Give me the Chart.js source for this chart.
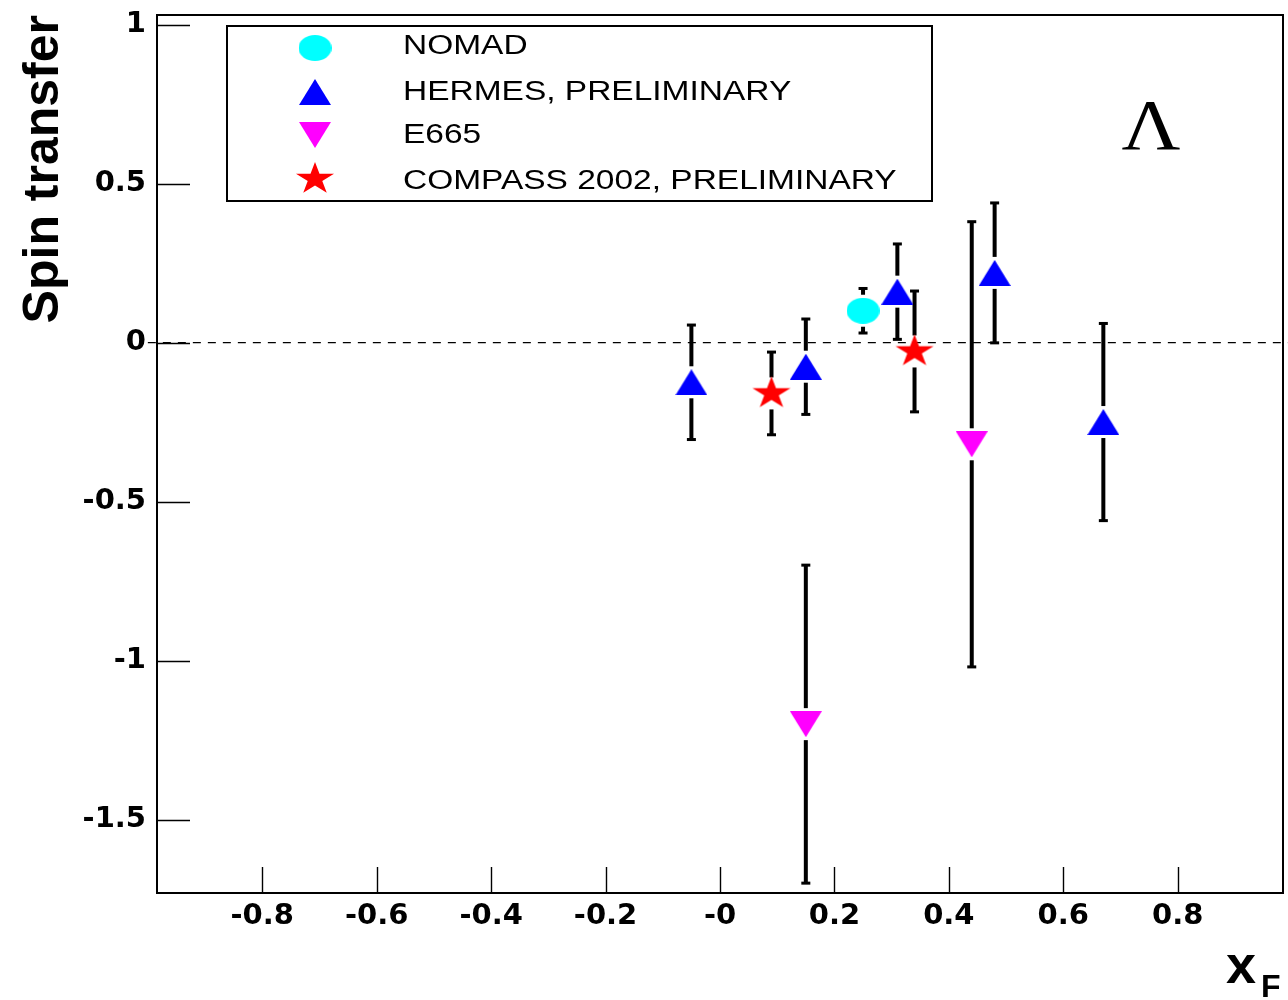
<!DOCTYPE html>
<html lang="en">
  <head>
    <meta charset="UTF-8" />
    <title>Lambda spin transfer vs xF</title>
    <script src="https://cdn.jsdelivr.net/npm/chart.js"></script>
    <style>
      body {
        margin: 0;
        background: #fff;
      }
      #wrap {
        width: 1288px;
        height: 1000px;
      }
    </style>
  </head>
  <body>
    <div id="wrap"><canvas id="spinChart" width="1288" height="1000"></canvas></div>

    <script>
      // Measured points: xF, spin transfer, symmetric error
      const nomadX = [0.25];
      const nomadY = [0.1];
      const nomadErr = [0.07];

      const hermesX = [-0.05, 0.15, 0.31, 0.48, 0.67];
      const hermesY = [-0.125, -0.076, 0.16, 0.219, -0.25];
      const hermesErr = [0.18, 0.15, 0.15, 0.22, 0.31];

      const e665X = [0.15, 0.44];
      const e665Y = [-1.2, -0.32];
      const e665Err = [0.5, 0.7];

      const compassX = [0.09, 0.34];
      const compassY = [-0.16, -0.028];
      const compassErr = [0.13, 0.19];

      const xTicks = [-0.8, -0.6, -0.4, -0.2, 0, 0.2, 0.4, 0.6, 0.8];
      const xTickLabels = ["-0.8", "-0.6", "-0.4", "-0.2", "-0", "0.2", "0.4", "0.6", "0.8"];
      const yTicks = [1, 0.5, 0, -0.5, -1, -1.5];
      const yTickLabels = ["1", "0.5", "0", "-0.5", "-1", "-1.5"];

      // reference line at zero transfer
      const zeroLineX = [-1, 1];

      const toPoints = (xs, ys) => xs.map((x, i) => ({ x: x, y: ys[i] }));

      // filled marker shapes, used both on the plot and in the legend box
      function makeMarker(w, h, color, shape) {
        const c = document.createElement("canvas");
        c.width = w;
        c.height = h;
        const g = c.getContext("2d");
        g.fillStyle = color;
        g.beginPath();
        shape(g, w, h);
        g.closePath();
        g.fill();
        return c;
      }

      const ellipseMarker = makeMarker(33, 26, "#00ffff", (g, w, h) =>
        g.ellipse(w / 2, h / 2, w / 2, h / 2, 0, 0, Math.PI * 2)
      );
      const triUpMarker = makeMarker(32, 26, "#0000ff", (g, w, h) => {
        g.moveTo(0, h);
        g.lineTo(w / 2, 0);
        g.lineTo(w, h);
      });
      const triDownMarker = makeMarker(32, 26, "#ff00ff", (g, w, h) => {
        g.moveTo(0, 0);
        g.lineTo(w, 0);
        g.lineTo(w / 2, h);
      });
      const starMarker = makeMarker(40, 34, "#ff0000", (g, w, h) => {
        const cx = w / 2, cy = h / 2, rx = 20, ry = 17;
        for (let k = 0; k < 10; k++) {
          const a = -Math.PI / 2 + (k * Math.PI) / 5;
          const r = k % 2 === 0 ? 1 : 0.382;
          const px = cx + r * rx * Math.cos(a);
          const py = cy + r * ry * Math.sin(a);
          if (k === 0) g.moveTo(px, py);
          else g.lineTo(px, py);
        }
      });

      // vertical error bars with a gap around the marker, ROOT style
      const errorBars = {
        id: "errorBars",
        beforeDatasetsDraw(chart) {
          const { ctx, scales } = chart;
          const xs = scales.x, ys = scales.y;
          const gap = 16;
          ctx.save();
          ctx.fillStyle = "#000";
          chart.data.datasets.forEach((ds) => {
            if (!ds.errors) return;
            ds.data.forEach((p, i) => {
              const px = xs.getPixelForValue(p.x);
              const py = ys.getPixelForValue(p.y);
              const top = ys.getPixelForValue(p.y + ds.errors[i]);
              const bot = ys.getPixelForValue(p.y - ds.errors[i]);
              if (py - gap > top) ctx.fillRect(px - 2, top, 4, py - gap - top);
              if (bot > py + gap) ctx.fillRect(px - 2, py + gap, 4, bot - py - gap);
              ctx.fillRect(px - 4.5, top - 1.5, 9, 3);
              ctx.fillRect(px - 4.5, bot - 1.5, 9, 3);
            });
          });
          ctx.restore();
        },
      };

      // frame, inward tick marks, legend box and the free-standing labels
      const decorations = {
        id: "decorations",
        afterDraw(chart) {
          const { ctx, chartArea: a, scales } = chart;
          ctx.save();
          ctx.strokeStyle = "#000";
          ctx.fillStyle = "#000";

          ctx.lineWidth = 1.4;
          ctx.beginPath();
          yTicks.forEach((v) => {
            const py = Math.round(scales.y.getPixelForValue(v)) + 0.5;
            ctx.moveTo(a.left, py);
            ctx.lineTo(a.left + 33, py);
          });
          xTicks.forEach((v) => {
            const px = Math.round(scales.x.getPixelForValue(v)) + 0.5;
            ctx.moveTo(px, a.bottom);
            ctx.lineTo(px, a.bottom - 26);
          });
          ctx.stroke();

          ctx.lineWidth = 2;
          ctx.strokeRect(a.left, a.top, a.right - a.left, a.bottom - a.top);

          // legend
          ctx.strokeRect(227, 26, 705, 175);
          const rows = [
            { marker: ellipseMarker, cy: 48, base: 54 },
            { marker: triUpMarker, cy: 92, base: 100 },
            { marker: triDownMarker, cy: 135, base: 143 },
            { marker: starMarker, cy: 179, base: 189 },
          ];
          ctx.font = "27px 'Liberation Sans', Arial, sans-serif";
          ctx.textBaseline = "alphabetic";
          ctx.textAlign = "left";
          rows.forEach((r, i) => {
            const m = r.marker;
            ctx.drawImage(m, 315 - m.width / 2, r.cy - m.height / 2);
            ctx.save();
            ctx.translate(403, r.base);
            ctx.scale(1.24, 1);
            ctx.fillText(chart.data.datasets[i].label, 0, 0);
            ctx.restore();
          });

          // particle symbol
          ctx.save();
          ctx.font = "72px 'Liberation Serif', 'Times New Roman', serif";
          ctx.textAlign = "center";
          ctx.translate(1151, 149);
          ctx.scale(1.13, 1);
          ctx.fillText("\u039B", 0, 0);
          ctx.restore();

          // x axis title: x with subscript F
          ctx.font = "bold 54px 'Liberation Sans', Arial, sans-serif";
          ctx.fillText("x", 1226, 983);
          ctx.font = "bold 32px 'Liberation Sans', Arial, sans-serif";
          ctx.fillText("F", 1261, 997);

          ctx.restore();
        },
      };

      const tickFont = { family: "'DejaVu Sans', sans-serif", weight: "bold", size: 29 };

      new Chart(document.getElementById("spinChart"), {
        type: "scatter",
        data: {
          datasets: [
            {
              label: "NOMAD",
              data: toPoints(nomadX, nomadY),
              errors: nomadErr,
              pointStyle: ellipseMarker,
              order: 1,
            },
            {
              label: "HERMES, PRELIMINARY",
              data: toPoints(hermesX, hermesY),
              errors: hermesErr,
              pointStyle: triUpMarker,
              order: 1,
            },
            {
              label: "E665",
              data: toPoints(e665X, e665Y),
              errors: e665Err,
              pointStyle: triDownMarker,
              order: 1,
            },
            {
              label: "COMPASS 2002, PRELIMINARY",
              data: toPoints(compassX, compassY),
              errors: compassErr,
              pointStyle: starMarker,
              order: 0,
            },
            {
              type: "line",
              label: "zero",
              data: zeroLineX.map((x) => ({ x: x, y: 0 })),
              borderColor: "#000",
              borderWidth: 1.3,
              borderDash: [8, 7],
              pointRadius: 0,
              clip: false,
              order: 10,
            },
          ],
        },
        options: {
          responsive: false,
          animation: false,
          events: [],
          layout: { padding: { top: 15, right: 3, left: 0, bottom: 0 } },
          plugins: { legend: { display: false }, tooltip: { enabled: false } },
          scales: {
            x: {
              type: "linear",
              min: -0.984,
              max: 0.984,
              grid: { display: false, drawTicks: false },
              border: { display: false },
              afterFit: (s) => {
                s.height = 107;
                s.paddingLeft = 0;
                s.paddingRight = 0;
              },
              afterBuildTicks: (s) => { s.ticks = xTicks.map((v) => ({ value: v })); },
              ticks: {
                autoSkip: false,
                maxRotation: 0,
                padding: 6,
                color: "#000",
                font: tickFont,
                callback: (v, i) => xTickLabels[i],
              },
            },
            y: {
              type: "linear",
              min: -1.731,
              max: 1.03,
              grid: { display: false, drawTicks: false },
              border: { display: false },
              afterFit: (s) => {
                s.width = 157;
                s.paddingTop = 0;
                s.paddingBottom = 0;
              },
              afterBuildTicks: (s) => { s.ticks = yTicks.map((v) => ({ value: v })); },
              ticks: {
                autoSkip: false,
                padding: 11,
                color: "#000",
                font: tickFont,
                callback: (v, i) => yTickLabels[i],
              },
              title: {
                display: true,
                text: "Spin transfer",
                align: "end",
                color: "#000",
                font: { family: "'Liberation Sans', Arial, sans-serif", weight: "bold", size: 50, lineHeight: 1.2 },
                padding: { top: 14, bottom: 0 },
              },
            },
          },
        },
        plugins: [errorBars, decorations],
      });
    </script>
  </body>
</html>
